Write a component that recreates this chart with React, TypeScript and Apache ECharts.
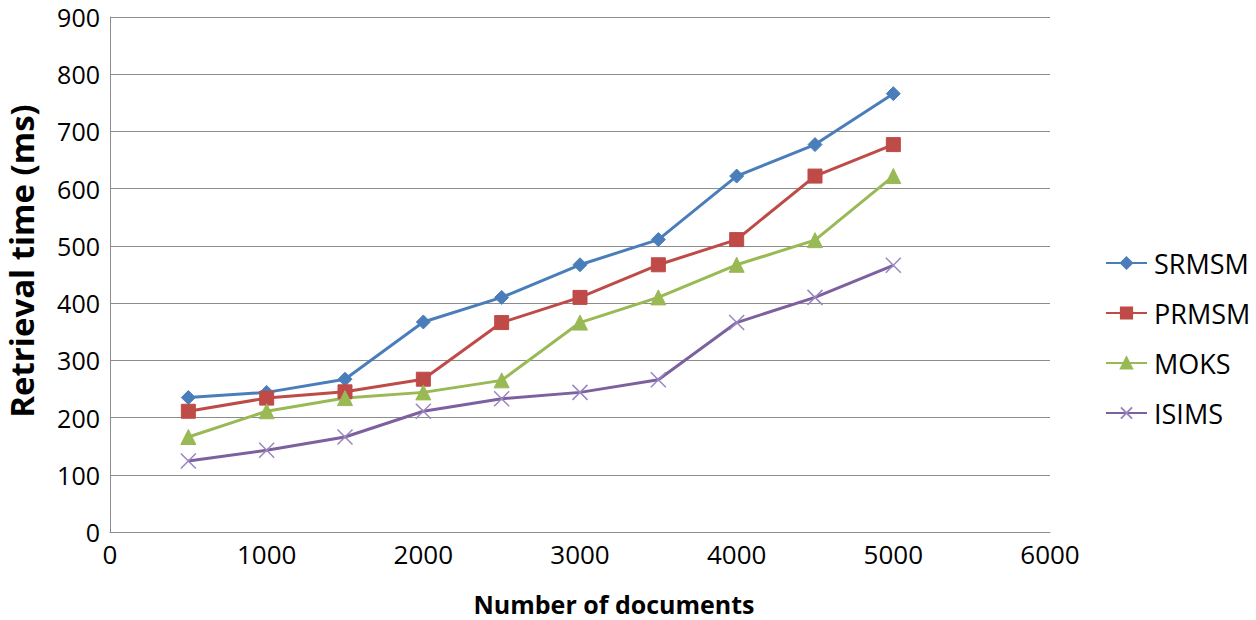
import React, { useEffect, useRef } from "react";
import * as echarts from "echarts";

const xValues = [500, 1000, 1500, 2000, 2500, 3000, 3500, 4000, 4500, 5000];
const seriesNames = ["SRMSM", "PRMSM", "MOKS", "ISIMS"];
const srmsm = [235, 244, 267, 367, 410, 467, 511, 622, 677, 766];
const prmsm = [211, 234, 245, 267, 366, 410, 467, 511, 622, 677];
const moks = [166, 211, 234, 244, 265, 366, 410, 467, 510, 622];
const isims = [124, 143, 166, 211, 233, 244, 266, 366, 410, 466];
const colors = ["#4A7EBB", "#BE4B48", "#98B954", "#7D60A0"];
const xTitle = "Number of documents";
const yTitle = "Retrieval time (ms)";

const FONT = "Open Sans";

export default function App() {
  const ref = useRef<HTMLDivElement>(null);
  useEffect(() => {
    document.body.style.margin = "0";
    const chart = echarts.init(ref.current!, null, { renderer: "svg" });
    const all = [srmsm, prmsm, moks, isims];
    const symbols = [
      "diamond",
      "rect",
      "triangle",
      "path://M0,0L10,10M10,0L0,10",
    ];
    const sizes = [14, 14, 15, 15];
    chart.setOption({
      animation: false,
      backgroundColor: "#ffffff",
      grid: { left: 110, right: 206, top: 17, bottom: 88, containLabel: false },
      legend: {
        orient: "vertical",
        left: 1100,
        top: 243,
        itemGap: 20,
        itemWidth: 41,
        itemHeight: 14,
        data: seriesNames,
        textStyle: {
          fontFamily: FONT,
          fontSize: 27,
          lineHeight: 30,
          color: "#000",
          padding: [0, 0, 0, 2],
        },
      },
      graphic: [
        {
          type: "text",
          x: 614,
          y: 604,
          style: {
            text: xTitle,
            fontFamily: FONT,
            fontSize: 25,
            fontWeight: "bold",
            fill: "#000",
            align: "center",
            verticalAlign: "middle",
          },
        },
        {
          type: "text",
          x: 21,
          y: 261,
          rotation: Math.PI / 2,
          style: {
            text: yTitle,
            fontFamily: FONT,
            fontSize: 33,
            lineHeight: 33,
            fontWeight: "bold",
            fill: "#000",
            align: "center",
            verticalAlign: "middle",
          },
        },
      ],
      xAxis: {
        type: "value",
        min: 0,
        max: 6000,
        interval: 1000,
        axisLine: { show: true, lineStyle: { color: "#8c8c8c", width: 1 } },
        axisTick: { show: false },
        splitLine: { show: false },
        axisLabel: {
          fontFamily: FONT,
          fontSize: 26,
          lineHeight: 26,
          color: "#000",
          margin: 9,
          formatter: (v: number) => String(v),
        },
      },
      yAxis: {
        type: "value",
        min: 0,
        max: 900,
        interval: 100,
        axisLine: { show: true, lineStyle: { color: "#8c8c8c", width: 1 } },
        axisTick: { show: false },
        splitLine: { show: true, lineStyle: { color: "#8c8c8c", width: 1 } },
        axisLabel: { fontFamily: FONT, fontSize: 25, lineHeight: 25, color: "#000", margin: 10 },
      },
      series: all.map((vals, i) => ({
        name: seriesNames[i],
        type: "line",
        data: vals.map((v, j) => [xValues[j], v]),
        symbol: symbols[i],
        symbolSize: sizes[i],
        showAllSymbol: true,
        lineStyle: { color: colors[i], width: 3 },
        itemStyle:
          i === 3
            ? { color: colors[i], borderColor: "#9A86C0", borderWidth: 1.5 }
            : { color: colors[i], borderColor: colors[i], borderWidth: 1 },
      })),
    });
    return () => chart.dispose();
  }, []);
  return <div ref={ref} style={{ width: 1256, height: 620 }} />;
}
